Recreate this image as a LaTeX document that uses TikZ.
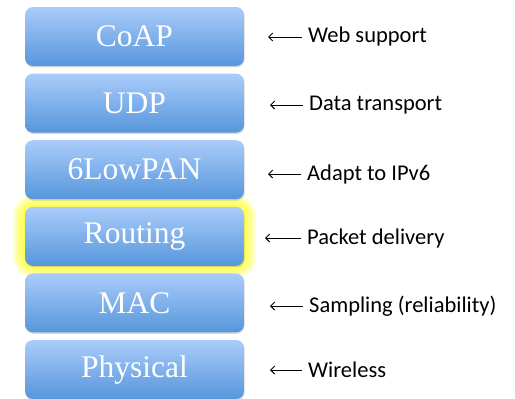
\documentclass[tikz,border=0pt]{standalone}
\usepackage{fontspec}
\setmainfont{Liberation Serif}
\newfontfamily\lblfont{Carlito}
\usepackage{tikz}
\usetikzlibrary{arrows.meta}
\usetikzlibrary{shadows}
\usetikzlibrary{backgrounds}

\definecolor{layertop}{RGB}{170,204,250}
\definecolor{layerbot}{RGB}{86,150,220}
\definecolor{glowyellow}{RGB}{255,255,40}

\tikzset{
	layerbox/.style={rounded corners=8pt, minimum width=219pt, minimum height=59pt, inner sep=0pt,
		top color=layertop, bottom color=layerbot,
		drop shadow={shadow xshift=0.6pt, shadow yshift=-1.4pt, opacity=0.3},
		text=white, font=\fontsize{31.5}{33}\selectfont},
	notetext/.style={anchor=west, inner xsep=6pt, inner ysep=0pt, font=\lblfont\fontsize{22.5}{25}\selectfont},
	arrowline/.style={-{Straight Barb[length=4pt,width=8pt]}, line width=0.9pt},
}

\begin{document}
\begin{tikzpicture}
		\useasboundingbox (0,0) rectangle (515pt,-399pt);
		\begin{scope}
				\foreach \i/\c in{
						0/CoAP,
						1/UDP,
						2/6LowPAN,
						3/Routing,
						4/MAC,
						5/Physical
				}{
				\pgfmathsetmacro{\cy}{-36.5-66.6*\i}
				\node[layerbox] (L\i) at (134.5pt,\cy pt) {\c};
				}
				% glow round the routing layer
				\begin{pgfonlayer}{background}
				\foreach \w in {24,19,15,11,7,4}
						\draw[glowyellow, opacity=0.22, line width=\w pt, rounded corners=10pt] (L3.south west) rectangle (L3.north east);
				\end{pgfonlayer}
		\end{scope}
		\begin{scope}
				\foreach \i/\y/\t/\tx/\nx in
				{
						0/37/Web support/268/302,
						1/105/Data transport/270/303,
						2/174/Adapt to IPv6/268/301,
						3/238/Packet delivery/265/301,
						4/306/Sampling (reliability)/270/303,
						5/370/Wireless/270/302
				}
				{
				\node[notetext] (N\i) at (\nx pt,-\y pt) {\t};
				\coordinate (T\i) at (\tx pt,-\y pt);
				\draw[arrowline] (N\i.west) -- (T\i);
				}
		\end{scope}
\end{tikzpicture}
\end{document}
